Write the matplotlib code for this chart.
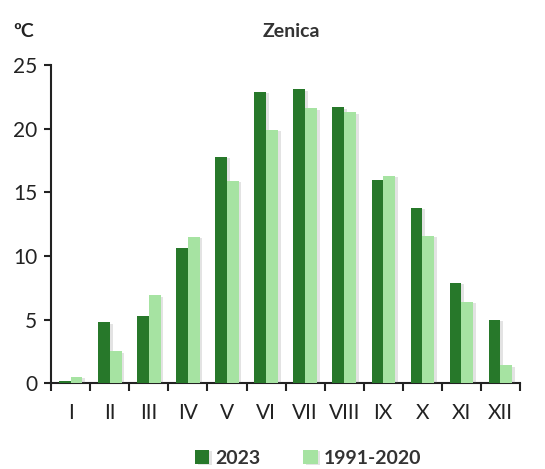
import numpy as np
import matplotlib
matplotlib.use("Agg")
import matplotlib.pyplot as plt
import matplotlib.patheffects as pe

# --- DATA ---
months = ["I", "II", "III", "IV", "V", "VI", "VII", "VIII", "IX", "X", "XI", "XII"]
temp_2023 = [0.2, 4.8, 5.3, 10.6, 17.8, 22.9, 23.1, 21.7, 16.0, 13.8, 7.9, 5.0]
temp_norm = [0.5, 2.5, 6.9, 11.5, 15.9, 19.9, 21.6, 21.3, 16.3, 11.6, 6.4, 1.4]
y_ticks = [0, 5, 10, 15, 20, 25]

# --- STYLE ---
dark_green = "#27782a"
light_green = "#a6e3a2"
text_col = "#222222"
plt.rcParams["font.family"] = ["Lato", "DejaVu Sans"]

fig = plt.figure(figsize=(5.45, 4.69), dpi=100)
ax = fig.add_axes([0.094, 0.183, 0.860, 0.678])

x = np.arange(len(months))
w = 0.30
shadow = [pe.SimplePatchShadow(offset=(2, -1), alpha=0.18, shadow_rgbFace="#666666"), pe.Normal()]
ax.bar(x - w / 2, temp_2023, width=w, color=dark_green, label="2023", path_effects=shadow, zorder=3)
ax.bar(x + w / 2, temp_norm, width=w, color=light_green, label="1991-2020", path_effects=shadow, zorder=3)

ax.set_xlim(-0.5, len(months) - 0.5)
ax.set_ylim(0, 25)
ax.set_yticks(y_ticks)
ax.tick_params(axis="y", labelsize=15, length=5, width=1.5, colors=text_col, pad=5)

# month labels centred, ticks between categories
ax.set_xticks(x)
ax.set_xticklabels(months)
ax.set_xticks(np.arange(-0.5, len(months)), minor=True)
ax.tick_params(axis="x", which="major", length=0, labelsize=15, colors=text_col, pad=14)
ax.tick_params(axis="x", which="minor", length=6, width=1.5, color=text_col, direction="out")

for side in ["top", "right"]:
    ax.spines[side].set_visible(False)
for side in ["left", "bottom"]:
    ax.spines[side].set_linewidth(1.5)
    ax.spines[side].set_color(text_col)

fig.text(0.535, 0.922, "Zenica", fontsize=14, fontweight="bold", color="#333333", ha="center")
fig.text(0.025, 0.922, "ºC", fontsize=14, fontweight="bold", color=text_col)

leg = fig.legend(loc="lower center", bbox_to_anchor=(0.565, -0.032), ncol=2, frameon=False,
                 fontsize=14, handlelength=0.75, handleheight=0.75, columnspacing=2.2, handletextpad=0.3)
for t in leg.get_texts():
    t.set_fontweight("bold")
    t.set_color("#333333")

fig.savefig("out.png", dpi=100)
